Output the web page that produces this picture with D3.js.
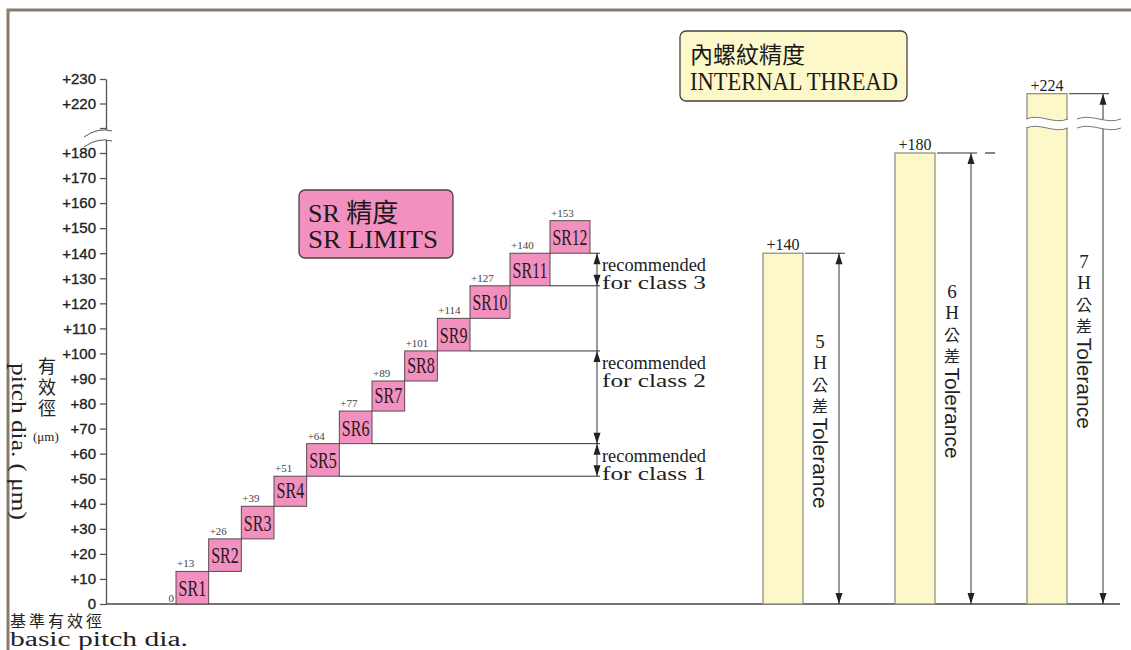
<!DOCTYPE html>
<html>
<head>
<meta charset="utf-8">
<script src="https://cdn.jsdelivr.net/npm/d3@7/dist/d3.min.js"></script>
<style>
  html, body { margin: 0; padding: 0; background: #fff; }
  #chart { width: 1131px; height: 650px; }
</style>
</head>
<body>
<div id="chart"></div>
<script>
// SR steps (lower / upper limits in µm)
const srLabels = ["SR1", "SR2", "SR3", "SR4", "SR5", "SR6", "SR7", "SR8", "SR9", "SR10", "SR11", "SR12"];
const srLower = [0, 13, 26, 39, 51, 64, 77, 89, 101, 114, 127, 140];
const srUpper = [13, 26, 39, 51, 64, 77, 89, 101, 114, 127, 140, 153];

// internal thread tolerance grades
const tolGrades = ["5", "6", "7"];
const tolUpper = [140, 180, 224];

// recommended ranges
const classNames = ["class 3", "class 2", "class 1"];
const classLow = [127, 64, 51];
const classHigh = [140, 101, 64];

// y axis ticks
const yTicks = [0, 10, 20, 30, 40, 50, 60, 70, 80, 90, 100, 110, 120, 130, 140, 150, 160, 170, 180, 210, 220, 230];
const yLabelled = [0, 10, 20, 30, 40, 50, 60, 70, 80, 90, 100, 110, 120, 130, 140, 150, 160, 170, 180, 220, 230];

const W = 1131, H = 650;
const SERIF = "'Liberation Serif', 'Times New Roman', serif";
const SANS = "'Liberation Sans', Arial, sans-serif";
const NARROW = "'Liberation Sans Narrow', 'Arial Narrow', 'Liberation Sans', sans-serif";
const CJK = "'Noto Sans CJK TC', 'Noto Sans CJK SC', sans-serif";
const PINK = "#f291bf";
const YELLOW = "#fdf8c9";
const INK = "#222";

const svg = d3.select("#chart").append("svg")
    .attr("width", W)
    .attr("height", H)
    .style("background-color", "#fff");

// broken scale: 0..180 below the break, 210..230 above
const y = d3.scaleLinear()
    .domain([0, 180, 210, 230])
    .range([604, 153, 128, 79]);

// SR box edges: single digit boxes are narrower than SR10..SR12
const xs = d3.scaleLinear()
    .domain([0, 9, 12])
    .range([176, 470, 590]);

const xt = d3.scalePoint()
    .domain(tolGrades)
    .range([783, 1047]);
const barW = 40;

// frame
svg.append("path")
    .attr("d", `M8,${H} L8,10 L${W},10`)
    .attr("fill", "none")
    .attr("stroke", "#877c6c")
    .attr("stroke-width", 3);

// y axis
const axisX = 106;
const yAxis = svg.append("g")
    .attr("transform", `translate(${axisX},0)`)
    .call(d3.axisLeft(y)
        .tickValues(yTicks)
        .tickSize(6)
        .tickSizeOuter(0)
        .tickPadding(4)
        .tickFormat(d => yLabelled.includes(d) ? (d === 0 ? "0" : "+" + d) : ""));

yAxis.select(".domain").attr("stroke", "#555").attr("stroke-width", 1.3);
yAxis.selectAll(".tick line").attr("stroke", "#555").attr("stroke-width", 1.3);
yAxis.selectAll(".tick text")
    .attr("fill", INK)
    .attr("stroke", INK)
    .attr("stroke-width", 0.35)
    .style("font-family", NARROW)
    .style("font-size", "15px");

// axis break marks
function arcPath(x0, x1, yL, yR, bow) {
    return `M${x0},${yL} Q${(x0 + x1) / 2},${(yL + yR) / 2 - bow} ${x1},${yR}`;
}
svg.append("path")
    .attr("d", `M84,137 Q97,126 112,131 L112,141 Q97,136 84,147 Z`)
    .attr("fill", "#fff");
svg.append("path")
    .attr("d", arcPath(84, 112, 137, 131, 7))
    .attr("fill", "none").attr("stroke", "#555").attr("stroke-width", 1);
svg.append("path")
    .attr("d", arcPath(84, 112, 147, 141, 7))
    .attr("fill", "none").attr("stroke", "#555").attr("stroke-width", 1);

// baseline
svg.append("line")
    .attr("x1", axisX).attr("x2", 1120)
    .attr("y1", y(0)).attr("y2", y(0))
    .attr("stroke", "#444")
    .attr("stroke-width", 1.5);

// y axis title
svg.append("text")
    .attr("transform", `translate(19,363) rotate(90)`)
    .attr("dominant-baseline", "central")
    .attr("textLength", 157)
    .attr("lengthAdjust", "spacingAndGlyphs")
    .style("font-family", SERIF)
    .style("font-size", "20px")
    .attr("fill", INK)
    .text("pitch dia. ( \u03bcm)");

svg.append("g")
    .selectAll("text")
    .data(["有", "效", "徑"])
    .join("text")
    .attr("x", 47)
    .attr("y", (d, i) => 373 + i * 21)
    .attr("text-anchor", "middle")
    .style("font-family", CJK)
    .style("font-size", "18px")
    .attr("fill", INK)
    .text(d => d);

svg.append("text")
    .attr("x", 33).attr("y", 441)
    .style("font-family", SERIF)
    .style("font-size", "13px")
    .attr("fill", INK)
    .text("(\u03bcm)");

// bottom-left caption
svg.append("text")
    .attr("x", 10).attr("y", 627)
    .style("font-family", CJK)
    .style("font-size", "16px")
    .attr("letter-spacing", 3)
    .attr("fill", INK)
    .text("基準有效徑");
svg.append("text")
    .attr("x", 10).attr("y", 646)
    .attr("textLength", 178)
    .attr("lengthAdjust", "spacingAndGlyphs")
    .style("font-family", SERIF)
    .style("font-size", "20px")
    .attr("fill", INK)
    .text("basic pitch dia.");

// SR boxes
const srData = srLabels.map((s, i) => ({ label: s, lo: srLower[i], hi: srUpper[i], i: i }));

const boxes = svg.append("g").attr("class", "sr-boxes");
boxes.selectAll("rect")
    .data(srData)
    .join("rect")
    .attr("x", d => xs(d.i))
    .attr("y", d => y(d.hi))
    .attr("width", d => xs(d.i + 1) - xs(d.i))
    .attr("height", d => y(d.lo) - y(d.hi))
    .attr("fill", PINK)
    .attr("stroke", "#5a4a50")
    .attr("stroke-width", 1);

boxes.selectAll("text.name")
    .data(srData)
    .join("text")
    .attr("class", "name")
    .attr("x", d => (xs(d.i) + xs(d.i + 1)) / 2)
    .attr("y", d => y(d.lo) - 8)
    .attr("text-anchor", "middle")
    .attr("textLength", d => xs(d.i + 1) - xs(d.i) - 5)
    .attr("lengthAdjust", "spacingAndGlyphs")
    .style("font-family", SERIF)
    .style("font-size", "23px")
    .attr("fill", "#2a1a20")
    .text(d => d.label);

boxes.selectAll("text.val")
    .data(srData)
    .join("text")
    .attr("class", "val")
    .attr("x", d => xs(d.i) + 1)
    .attr("y", d => y(d.hi) - 4)
    .style("font-family", SERIF)
    .style("font-size", "11px")
    .attr("fill", "#444")
    .text(d => "+" + d.hi);

svg.append("text")
    .attr("x", xs(0) - 2)
    .attr("y", y(0) - 2)
    .attr("text-anchor", "end")
    .style("font-family", SERIF)
    .style("font-size", "11px")
    .attr("fill", "#444")
    .text("0");

// arrow heads
function arrowHead(g, x, yTip, dir) {
    const len = 11, hw = 3.5;
    g.append("path")
        .attr("d", `M${x},${yTip} L${x - hw},${yTip + dir * len} L${x + hw},${yTip + dir * len} Z`)
        .attr("fill", "#222");
}

// recommended class ranges
const recX = 597;
const rec = svg.append("g").attr("class", "recommended");
const edgeVals = Array.from(new Set(classLow.concat(classHigh)));
rec.selectAll("line.edge")
    .data(edgeVals)
    .join("line")
    .attr("class", "edge")
    .attr("x1", v => xs(srLower.indexOf(v) + 1))
    .attr("x2", recX + 3)
    .attr("y1", v => y(v))
    .attr("y2", v => y(v))
    .attr("stroke", "#333")
    .attr("stroke-width", 1);

rec.append("line")
    .attr("x1", recX).attr("x2", recX)
    .attr("y1", y(d3.max(classHigh))).attr("y2", y(d3.min(classLow)))
    .attr("stroke", "#333")
    .attr("stroke-width", 1);

classNames.forEach((c, i) => {
    arrowHead(rec, recX, y(classHigh[i]), 1);
    arrowHead(rec, recX, y(classLow[i]), -1);
    const top = y(classHigh[i]);
    rec.append("text")
        .attr("x", recX + 5).attr("y", top + 18)
        .attr("textLength", 104)
        .attr("lengthAdjust", "spacingAndGlyphs")
        .style("font-family", SERIF)
        .style("font-size", "19px")
        .attr("fill", INK)
        .text("recommended");
    rec.append("text")
        .attr("x", recX + 5).attr("y", top + 36)
        .attr("textLength", 104)
        .attr("lengthAdjust", "spacingAndGlyphs")
        .style("font-family", SERIF)
        .style("font-size", "19px")
        .attr("fill", INK)
        .text("for " + c);
});

// tolerance bars
const tolData = tolGrades.map((g, i) => ({ grade: g, hi: tolUpper[i] }));
const tol = svg.append("g").attr("class", "tolerance");

tol.selectAll("rect")
    .data(tolData)
    .join("rect")
    .attr("x", d => xt(d.grade) - barW / 2)
    .attr("y", d => y(d.hi))
    .attr("width", barW)
    .attr("height", d => y(0) - y(d.hi))
    .attr("fill", YELLOW)
    .attr("stroke", "#8b8a78")
    .attr("stroke-width", 1.2);

tol.selectAll("text.val")
    .data(tolData)
    .join("text")
    .attr("class", "val")
    .attr("x", d => xt(d.grade))
    .attr("y", d => y(d.hi) - 3)
    .attr("text-anchor", "middle")
    .style("font-family", SERIF)
    .style("font-size", "16px")
    .attr("fill", INK)
    .text(d => "+" + d.hi);

tolData.forEach(d => {
    const cx = xt(d.grade);
    const ax = cx + 56;
    const top = y(d.hi);
    tol.append("line")
        .attr("x1", cx + barW / 2 + 2).attr("x2", ax + 6)
        .attr("y1", top).attr("y2", top)
        .attr("stroke", "#333").attr("stroke-width", 1);
    tol.append("line")
        .attr("x1", ax).attr("x2", ax)
        .attr("y1", top).attr("y2", y(0))
        .attr("stroke", "#333").attr("stroke-width", 1);
    arrowHead(tol, ax, top, 1);
    arrowHead(tol, ax, y(0), -1);

    // vertical label: stacked upright characters, then rotated "Tolerance"
    const tx = cx + 37;
    const start = (top + y(0)) / 2 - 97;
    const chars = [d.grade, "H", "公", "差"];
    chars.forEach((ch, k) => {
        tol.append("text")
            .attr("x", tx)
            .attr("y", start + 10 + k * 21)
            .attr("text-anchor", "middle")
            .attr("dominant-baseline", "central")
            .style("font-family", k < 2 ? SERIF : CJK)
            .style("font-size", k < 2 ? "19px" : "16px")
            .attr("fill", INK)
            .text(ch);
    });
    tol.append("text")
        .attr("transform", `translate(${tx},${start + 86}) rotate(90)`)
        .attr("dominant-baseline", "central")
        .style("font-family", SANS)
        .style("font-size", "21px")
        .attr("fill", INK)
        .text("Tolerance");
});

// small dash right of the 6H dimension line
svg.append("line")
    .attr("x1", xt("6") + 70).attr("x2", xt("6") + 80)
    .attr("y1", y(180)).attr("y2", y(180))
    .attr("stroke", "#333").attr("stroke-width", 1.2);

// break on the 7H bar
function wave(x0, x1, yc, amp) {
    const w = x1 - x0;
    return `M${x0},${yc} C${x0 + w / 3},${yc - amp * 2} ${x0 + 2 * w / 3},${yc + amp * 2} ${x1},${yc}`;
}
function waveBack(x0, x1, yc, amp) {
    const w = x1 - x0;
    return `L${x1},${yc} C${x0 + 2 * w / 3},${yc + amp * 2} ${x0 + w / 3},${yc - amp * 2} ${x0},${yc}`;
}
[[xt("7") - barW / 2 - 1, xt("7") + barW / 2 + 1], [xt("7") + 30, xt("7") + 74]].forEach(([a, b]) => {
    svg.append("path")
        .attr("d", wave(a, b, 119, 3) + waveBack(a, b, 128, 3) + "Z")
        .attr("fill", "#fff");
    [119, 128].forEach(yy => {
        svg.append("path")
            .attr("d", wave(a, b, yy, 3))
            .attr("fill", "none")
            .attr("stroke", "#777")
            .attr("stroke-width", 1);
    });
});

// title boxes
function titleBox(x, yy, w, h, fill, lines) {
    const g = svg.append("g");
    g.append("rect")
        .attr("x", x).attr("y", yy)
        .attr("width", w).attr("height", h)
        .attr("rx", 6)
        .attr("fill", fill)
        .attr("stroke", "#4a4040")
        .attr("stroke-width", 1.3);
    lines.forEach(l => {
        const t = g.append("text")
            .attr("x", x + l.dx).attr("y", yy + l.dy)
            .style("font-family", l.font)
            .style("font-size", l.size + "px")
            .attr("fill", "#1a1a1a")
            .text(l.text);
        if (l.len) t.attr("textLength", l.len).attr("lengthAdjust", "spacingAndGlyphs");
    });
}

titleBox(299, 190, 154, 68, PINK, [
    { text: "SR 精度", dx: 9, dy: 32, size: 26, font: "'Liberation Serif', 'Noto Sans CJK TC', serif" },
    { text: "SR LIMITS", dx: 9, dy: 58, size: 26, font: SERIF, len: 130 }
]);

titleBox(680, 31, 227, 70, YELLOW, [
    { text: "內螺紋精度", dx: 10, dy: 32, size: 23, font: CJK },
    { text: "INTERNAL THREAD", dx: 10, dy: 59, size: 26, font: SERIF, len: 208 }
]);
</script>
</body>
</html>
